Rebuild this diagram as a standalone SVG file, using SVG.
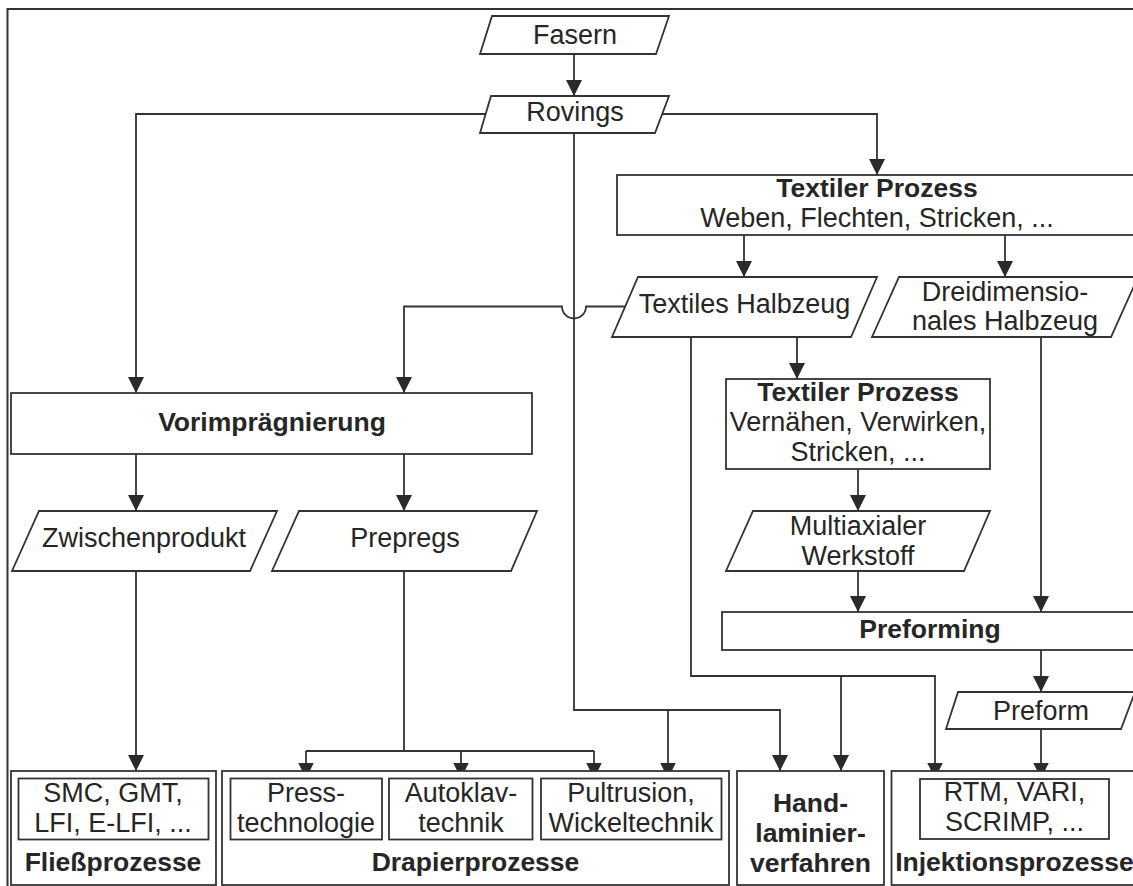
<svg xmlns="http://www.w3.org/2000/svg" width="1133" height="886" viewBox="0 0 1133 886">
<style>
  .b { fill: #ffffff; stroke: #333333; stroke-width: 1.8; }
  .c { fill: none; stroke: #333333; stroke-width: 1.8; }
  .t { font-family: "Liberation Sans", Arial, Helvetica, sans-serif; font-size: 27px; fill: #262626; text-anchor: middle; }
  .tb { font-family: "Liberation Sans", Arial, Helvetica, sans-serif; font-size: 26.5px; font-weight: bold; fill: #262626; text-anchor: middle; }
</style>
<defs>
  <marker id="ah" markerUnits="userSpaceOnUse" markerWidth="16" markerHeight="16" refX="16" refY="8" orient="auto" viewBox="0 0 16 16">
    <path d="M0,0 L16,8 L0,16 z" fill="#2a2a2a"/>
  </marker>
</defs>
<rect x="0" y="0" width="1133" height="886" fill="#ffffff"/>
<rect id="frame" x="7.5" y="9" width="1140" height="900" fill="none" stroke="#333333" stroke-width="2"/>

<g id="connectors">
  <path class="c" d="M574,54 V96" marker-end="url(#ah)"/>
  <path class="c" d="M486,114 H136 V393" marker-end="url(#ah)"/>
  <path class="c" d="M662,114 H877 V175" marker-end="url(#ah)"/>
  <path class="c" d="M574,133 V710 H780 V771" marker-end="url(#ah)"/>
  <path class="c" d="M668,710 V778.5" marker-end="url(#ah)"/>
  <path class="c" d="M744,235 V277" marker-end="url(#ah)"/>
  <path class="c" d="M1005,235 V277" marker-end="url(#ah)"/>
  <path class="c" d="M625,306.5 H586 A12,12 0 0 1 562,306.5 H404 V393" marker-end="url(#ah)"/>
  <path class="c" d="M797,337 V379" marker-end="url(#ah)"/>
  <path class="c" d="M691,337 V676 H935 V778.5" marker-end="url(#ah)"/>
  <path class="c" d="M841,676 V771" marker-end="url(#ah)"/>
  <path class="c" d="M1041,337 V612" marker-end="url(#ah)"/>
  <path class="c" d="M136,454 V511" marker-end="url(#ah)"/>
  <path class="c" d="M404,454 V511" marker-end="url(#ah)"/>
  <path class="c" d="M858,469 V511" marker-end="url(#ah)"/>
  <path class="c" d="M858,571 V612" marker-end="url(#ah)"/>
  <path class="c" d="M1041,650 V692" marker-end="url(#ah)"/>
  <path class="c" d="M1041,729 V778.5" marker-end="url(#ah)"/>
  <path class="c" d="M136,571 V771" marker-end="url(#ah)"/>
  <path class="c" d="M404,571 V751"/>
  <path class="c" d="M306,751 H594"/>
  <path class="c" d="M306,751 V778.5" marker-end="url(#ah)"/>
  <path class="c" d="M461,751 V778.5" marker-end="url(#ah)"/>
  <path class="c" d="M594,751 V778.5" marker-end="url(#ah)"/>
</g>

<g id="fasern">
  <polygon class="b" points="492,16 669,16 656,54 480,54"/>
  <text class="t" x="575" y="44">Fasern</text>
</g>
<g id="rovings">
  <polygon class="b" points="491,96 669,96 655,133 480,133"/>
  <text class="t" x="575" y="121">Rovings</text>
</g>
<g id="textiler-prozess-1">
  <rect class="b" x="617" y="175" width="521" height="60"/>
  <text class="tb" x="877" y="197">Textiler Prozess</text>
  <text class="t" x="877" y="227">Weben, Flechten, Stricken, ...</text>
</g>
<g id="textiles-halbzeug">
  <polygon class="b" points="638,277 877,277 851,337 612,337"/>
  <text class="t" x="744.5" y="313">Textiles Halbzeug</text>
</g>
<g id="dreidimensionales-halbzeug">
  <polygon class="b" points="899,277 1138,277 1111,337 872,337"/>
  <text class="t" x="1005" y="301">Dreidimensio-</text>
  <text class="t" x="1005" y="330">nales Halbzeug</text>
</g>
<g id="vorimpraegnierung">
  <rect class="b" x="11" y="393" width="521" height="61"/>
  <text class="tb" x="272" y="431">Vorimprägnierung</text>
</g>
<g id="textiler-prozess-2">
  <rect class="b" x="726" y="379" width="264" height="90"/>
  <text class="tb" x="858" y="401">Textiler Prozess</text>
  <text class="t" x="858" y="431">Vernähen, Verwirken,</text>
  <text class="t" x="858" y="461">Stricken, ...</text>
</g>
<g id="zwischenprodukt">
  <polygon class="b" points="39,511 277,511 250,571 12,571"/>
  <text class="t" x="144" y="547">Zwischenprodukt</text>
</g>
<g id="prepregs">
  <polygon class="b" points="299,511 537,511 511,571 272,571"/>
  <text class="t" x="405" y="547">Prepregs</text>
</g>
<g id="multiaxialer-werkstoff">
  <polygon class="b" points="753,511 990,511 964,571 726,571"/>
  <text class="t" x="858" y="535">Multiaxialer</text>
  <text class="t" x="858" y="565">Werkstoff</text>
</g>
<g id="preforming">
  <rect class="b" x="722" y="612" width="416" height="38"/>
  <text class="tb" x="930" y="638">Preforming</text>
</g>
<g id="preform">
  <polygon class="b" points="958,692 1135,692 1121,729 946,729"/>
  <text class="t" x="1041" y="720">Preform</text>
</g>
<g id="fliessprozesse">
  <rect class="b" x="11" y="771" width="205" height="114"/>
  <rect class="b" x="18.5" y="778.5" width="190" height="61"/>
  <text class="t" x="113" y="802">SMC, GMT,</text>
  <text class="t" x="113" y="832">LFI, E-LFI, ...</text>
  <text class="tb" x="113" y="871">Fließprozesse</text>
</g>
<g id="drapierprozesse">
  <rect class="b" x="222" y="771" width="507" height="114"/>
  <rect class="b" x="230.5" y="778.5" width="151.5" height="61"/>
  <text class="t" x="306" y="802">Press-</text>
  <text class="t" x="306" y="832">technologie</text>
  <rect class="b" x="389" y="778.5" width="143.5" height="61"/>
  <text class="t" x="461" y="802">Autoklav-</text>
  <text class="t" x="461" y="832">technik</text>
  <rect class="b" x="541" y="778.5" width="180.5" height="61"/>
  <text class="t" x="631" y="802">Pultrusion,</text>
  <text class="t" x="631" y="832">Wickeltechnik</text>
  <text class="tb" x="475.5" y="871">Drapierprozesse</text>
</g>
<g id="handlaminierverfahren">
  <rect class="b" x="737" y="771" width="147" height="114"/>
  <text class="tb" x="810.5" y="812">Hand-</text>
  <text class="tb" x="810.5" y="842">laminier-</text>
  <text class="tb" x="810.5" y="872">verfahren</text>
</g>
<g id="injektionsprozesse">
  <rect class="b" x="891.5" y="771" width="246" height="114"/>
  <rect class="b" x="920" y="779" width="189" height="60"/>
  <text class="t" x="1014.5" y="801">RTM, VARI,</text>
  <text class="t" x="1014.5" y="831">SCRIMP, ...</text>
  <text class="tb" x="1014.5" y="871">Injektionsprozesse</text>
</g>
</svg>
